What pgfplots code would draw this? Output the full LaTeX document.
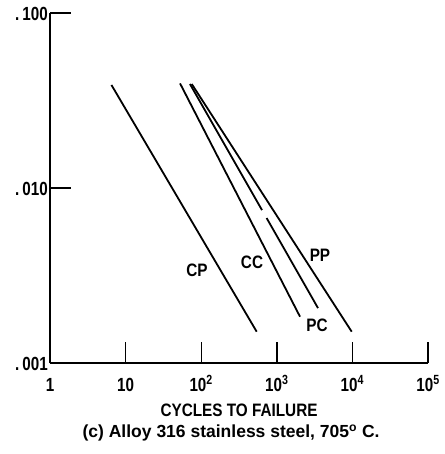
\documentclass[border=0pt]{standalone}
\usepackage{fontspec}
\setmainfont{Liberation Sans}
\newfontfamily\cond[FakeStretch=0.85]{Liberation Sans}
\newfontfamily\condd[FakeStretch=0.8]{Liberation Sans}
\usepackage{pgfplots}
\pgfplotsset{compat=1.18}
\newcommand\tf{\cond\fontsize{18}{21}\selectfont\bfseries}
\newcommand\kf{\condd\fontsize{19}{22}\selectfont\bfseries}
\newcommand\cf{\fontsize{17.5}{21}\selectfont\bfseries}
\begin{document}
\begin{tikzpicture}
\useasboundingbox (-50pt,-91pt) rectangle (394pt,363pt);
\begin{axis}[
  scale only axis, width=378pt, height=350pt,
  xmode=log, ymode=log,
  xmin=1, xmax=1e5, ymin=0.001, ymax=0.1,
  axis lines=left,
  axis line style={-, line width=1.6pt},
  xtick={1,10,100,1000,10000,100000},
  xticklabels={{\kf 1},{\kf 10},{\kf 10\textsuperscript{2}},{\kf 10\textsuperscript{3}},{\kf 10\textsuperscript{4}},{\kf 10\textsuperscript{5}}},
  ytick={0.001,0.01,0.1},
  yticklabels={{\kf .\,001},{\kf .\,010},{\kf .\,100}},
  minor tick style={draw=none},
  minor tick length=0pt,
  tick align=inside,
  major tick length=21pt,
  major tick style={line width=1.4pt, black},
  xticklabel style={anchor=base, yshift=-28pt},
  yticklabel style={anchor=east, inner xsep=1pt, xshift=-1pt, yshift=-1pt},
  clip=false,
]
\addplot[black, line width=1.8pt] coordinates {(6.5,0.0388) (542,0.00151)};
\addplot[black, line width=1.8pt] coordinates {(52.5,0.0396) (2027,0.00184)};
\addplot[black, line width=1.8pt] coordinates {(71,0.0393) (637,0.00748)};
\addplot[black, line width=1.8pt] coordinates {(733,0.00674) (3508,0.00206)};
\addplot[black, line width=1.8pt] coordinates {(75,0.0393) (9790,0.00151)};
\node[font=\tf] at (axis cs:88,0.0034) {CP};
\node[font=\tf] at (axis cs:470,0.00378) {CC};
\node[font=\tf] at (axis cs:3725,0.00414) {PP};
\node[font=\tf] at (axis cs:3404,0.00165) {PC};
\node[font=\tf] at (rel axis cs:0.5,0) [yshift=-47pt] {CYCLES TO FAILURE};
\node[font=\cf] at (rel axis cs:0.479,0) [yshift=-70pt] {(c) Alloy 316 stainless steel, 705\textsuperscript{o} C.};
\end{axis}
\end{tikzpicture}
\end{document}
